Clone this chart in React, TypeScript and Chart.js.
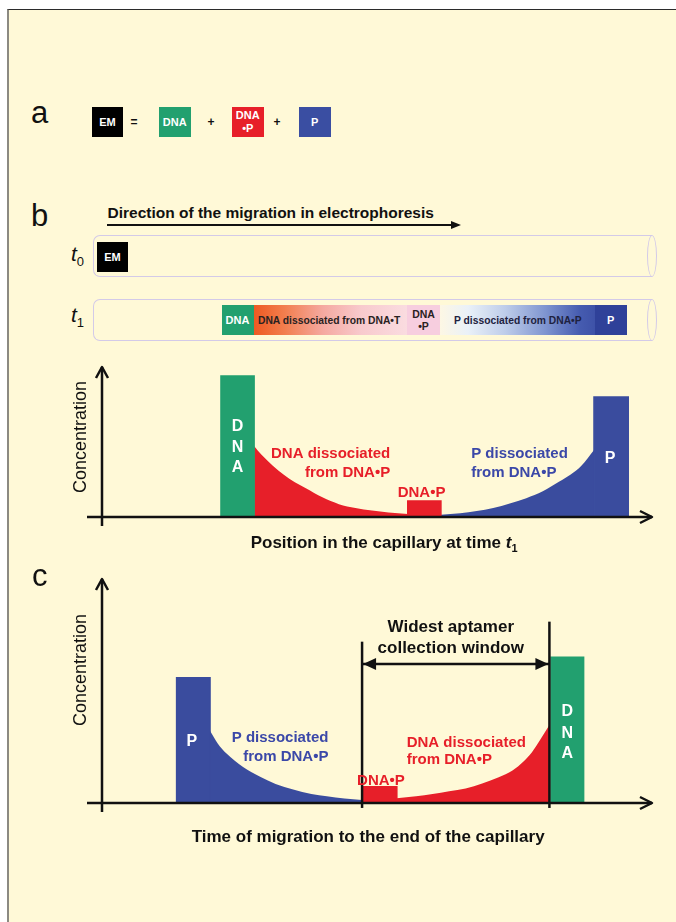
import React, { useEffect, useRef } from 'react';
import { Chart, registerables } from 'chart.js';

Chart.register(...registerables);

const FONT = '"Liberation Sans", Arial, Helvetica, sans-serif';
const BG = '#FFF9D7';
const GREEN = '#22A06F';
const RED = '#E71F29';
const BLUE = '#3A4C9E';
const LABEL_BLUE = '#3B48A8';
const INK = '#111111';

// ---------- Panel b: position in the capillary at time t1 (x 0-100, concentration 0-100)
const bDnaBand = [21.6, 27.6];
const bDnaHeight = 93.4;
const bRedX = [27.6, 29, 31, 33, 35, 37, 40, 43, 46, 49, 52, 55.5];
const bRedY = [47, 41, 34, 28, 23, 19, 13, 8.5, 6, 4.3, 3, 2];
const bComplexBand = [55.5, 61.5];
const bComplexHeight = 10.6;
const bBlueX = [61.5, 65, 68, 71, 74, 77, 80, 83, 85, 87, 89.3];
const bBlueY = [1.5, 2.5, 4, 6, 9, 12.5, 17, 23.5, 28, 34, 44.4];
const bPBand = [89.3, 95.5];
const bPHeight = 79.5;

// ---------- Panel c: time of migration to the end of the capillary
const cPBand = [13.55, 19.6];
const cPHeight = 55.7;
const cBlueX = [19.6, 21, 22.6, 25.6, 28.7, 31.5, 34.7, 38, 40.8, 44, 47.2];
const cBlueY = [32.1, 26.5, 22, 16, 11.7, 8.5, 6, 4, 3, 2, 1.3];
const cComplexBand = [47.2, 53.5];
const cComplexHeight = 7.2;
const cRedX = [53.5, 57, 60, 63, 66, 69, 72, 74.5, 76.5, 78, 79.5, 81.2];
const cRedY = [2.1, 3, 4, 5.2, 6.5, 8.7, 11.5, 14.5, 18.5, 22.5, 28, 34.7];
const cDnaBand = [81.5, 87.4];
const cDnaHeight = 64.8;
const cWindowX = [47.2, 81.2];
const cWindowTop = [71.7, 80.6];
const cWindowBottom = -2.2;
const cWindowArrowY = 61.8;

type Pt = { x: number; y: number };
const zip = (xs: number[], ys: number[]): Pt[] => xs.map((x, i) => ({ x, y: ys[i] }));
const rect = (band: number[], h: number): Pt[] => [
  { x: band[0], y: 0 },
  { x: band[0], y: h },
  { x: band[1], y: h },
  { x: band[1], y: 0 },
];

function area(data: Pt[], color: string, smooth: boolean) {
  return {
    data,
    borderWidth: smooth ? 1 : 1.6,
    borderColor: smooth ? 'rgba(0,0,0,0)' : color,
    backgroundColor: color,
    fill: 'origin',
    pointRadius: 0,
    tension: 0,
    cubicInterpolationMode: smooth ? 'monotone' : 'default',
    clip: false,
  };
}

function strokeLine(data: Pt[]) {
  return {
    data,
    borderWidth: 2.5,
    borderColor: INK,
    backgroundColor: INK,
    fill: false,
    pointRadius: 0,
    tension: 0,
    clip: false,
  };
}

function txt(ctx: CanvasRenderingContext2D, s: string, px: number, py: number, font: string, color: string, align: CanvasTextAlign = 'left', base: CanvasTextBaseline = 'alphabetic') {
  ctx.font = font;
  ctx.fillStyle = color;
  ctx.textAlign = align;
  ctx.textBaseline = base;
  ctx.fillText(s, px, py);
}

function drawAxes(ctx: CanvasRenderingContext2D, chart: any) {
  const a = chart.chartArea;
  const x0 = chart.scales.x.getPixelForValue(0);
  const y0 = chart.scales.y.getPixelForValue(0);
  ctx.strokeStyle = INK;
  ctx.lineWidth = 2.5;
  ctx.lineCap = 'butt';
  ctx.lineJoin = 'round';
  ctx.beginPath();
  ctx.moveTo(x0, y0 + 9);
  ctx.lineTo(x0, a.top + 1);
  ctx.moveTo(x0 - 15, y0);
  ctx.lineTo(a.right - 1, y0);
  ctx.stroke();
  ctx.beginPath();
  ctx.moveTo(x0 - 6, a.top + 12);
  ctx.lineTo(x0, a.top + 1);
  ctx.lineTo(x0 + 6, a.top + 12);
  ctx.moveTo(a.right - 13, y0 - 6);
  ctx.lineTo(a.right - 1, y0);
  ctx.lineTo(a.right - 13, y0 + 6);
  ctx.stroke();
}

function drawYTitle(ctx: CanvasRenderingContext2D, px: number, py: number) {
  ctx.save();
  ctx.translate(px, py);
  ctx.rotate(-Math.PI / 2);
  txt(ctx, 'Concentration', 0, 0, `18px ${FONT}`, INK, 'center', 'middle');
  ctx.restore();
}

const bDecor = {
  id: 'bDecor',
  afterDatasetsDraw(chart: any) {
    const ctx: CanvasRenderingContext2D = chart.ctx;
    const { x, y } = chart.scales;
    ctx.save();
    drawAxes(ctx, chart);
    const L = `bold 15px ${FONT}`;
    txt(ctx, 'DNA dissociated', x.getPixelForValue(52.3), y.getPixelForValue(39.1), L, RED, 'right');
    txt(ctx, 'from DNA\u2022P', x.getPixelForValue(52.3), y.getPixelForValue(26.5), L, RED, 'right');
    txt(ctx, 'DNA\u2022P', x.getPixelForValue(58.0), y.getPixelForValue(13.2), L, RED, 'center');
    txt(ctx, 'P dissociated', x.getPixelForValue(67.0), y.getPixelForValue(39.1), L, LABEL_BLUE, 'left');
    txt(ctx, 'from DNA\u2022P', x.getPixelForValue(67.0), y.getPixelForValue(26.5), L, LABEL_BLUE, 'left');
    const W = `bold 16px ${FONT}`;
    const cx = x.getPixelForValue((bDnaBand[0] + bDnaBand[1]) / 2);
    ['D', 'N', 'A'].forEach((ch, i) => txt(ctx, ch, cx, y.getPixelForValue([59.6, 45.7, 32.5][i]), W, '#ffffff', 'center', 'middle'));
    txt(ctx, 'P', x.getPixelForValue(92.2), y.getPixelForValue(38.6), W, '#ffffff', 'center', 'middle');
    drawYTitle(ctx, x.getPixelForValue(0) - 21, y.getPixelForValue(53));
    // x title with italic t and subscript 1
    const T = `bold 17px ${FONT}`;
    const main = 'Position in the capillary at time ';
    ctx.font = T;
    const w1 = ctx.measureText(main).width;
    ctx.font = `italic bold 17px ${FONT}`;
    const w2 = ctx.measureText('t').width;
    ctx.font = `bold 11px ${FONT}`;
    const w3 = ctx.measureText('1').width;
    const total = w1 + w2 + w3;
    const startX = x.getPixelForValue(51.2) - total / 2;
    const base = y.getPixelForValue(0) + 31;
    txt(ctx, main, startX, base, T, INK, 'left');
    txt(ctx, 't', startX + w1, base, `italic bold 17px ${FONT}`, INK, 'left');
    txt(ctx, '1', startX + w1 + w2, base + 4, `bold 11px ${FONT}`, INK, 'left');
    ctx.restore();
  },
};

const cDecor = {
  id: 'cDecor',
  afterDatasetsDraw(chart: any) {
    const ctx: CanvasRenderingContext2D = chart.ctx;
    const { x, y } = chart.scales;
    ctx.save();
    drawAxes(ctx, chart);
    // window arrowheads
    const ay = y.getPixelForValue(cWindowArrowY);
    const lx = x.getPixelForValue(cWindowX[0]) + 1;
    const rx = x.getPixelForValue(cWindowX[1]) - 1;
    ctx.fillStyle = INK;
    ctx.beginPath();
    ctx.moveTo(lx, ay);
    ctx.lineTo(lx + 13, ay - 6);
    ctx.lineTo(lx + 13, ay + 6);
    ctx.closePath();
    ctx.moveTo(rx, ay);
    ctx.lineTo(rx - 13, ay - 6);
    ctx.lineTo(rx - 13, ay + 6);
    ctx.closePath();
    ctx.fill();
    const L = `bold 15px ${FONT}`;
    txt(ctx, 'P dissociated', x.getPixelForValue(41.1), y.getPixelForValue(27.2), L, LABEL_BLUE, 'right');
    txt(ctx, 'from DNA\u2022P', x.getPixelForValue(41.1), y.getPixelForValue(18.8), L, LABEL_BLUE, 'right');
    txt(ctx, 'DNA dissociated', x.getPixelForValue(55.3), y.getPixelForValue(25.0), L, RED, 'left');
    txt(ctx, 'from DNA\u2022P', x.getPixelForValue(55.3), y.getPixelForValue(17.2), L, RED, 'left');
    txt(ctx, 'DNA\u2022P', x.getPixelForValue(46.3), y.getPixelForValue(8.0), L, RED, 'left');
    const W = `bold 16px ${FONT}`;
    txt(ctx, 'P', x.getPixelForValue(16.3), y.getPixelForValue(27.2), W, '#ffffff', 'center', 'middle');
    const cx = x.getPixelForValue((cDnaBand[0] + cDnaBand[1]) / 2);
    ['D', 'N', 'A'].forEach((ch, i) => txt(ctx, ch, cx, y.getPixelForValue([40.6, 31.0, 22.1][i]), W, '#ffffff', 'center', 'middle'));
    const T = `bold 17px ${FONT}`;
    txt(ctx, 'Widest aptamer', x.getPixelForValue(63.3), y.getPixelForValue(76.1), T, INK, 'center');
    txt(ctx, 'collection window', x.getPixelForValue(63.3), y.getPixelForValue(66.8), T, INK, 'center');
    drawYTitle(ctx, x.getPixelForValue(0) - 21, y.getPixelForValue(59.1));
    txt(ctx, 'Time of migration to the end of the capillary', x.getPixelForValue(48.3), y.getPixelForValue(0) + 39, T, INK, 'center');
    ctx.restore();
  },
};

function baseOptions(padding: any) {
  return {
    animation: false,
    responsive: false,
    maintainAspectRatio: false,
    events: [],
    layout: { padding },
    scales: {
      x: { type: 'linear', min: 0, max: 100, display: false },
      y: { type: 'linear', min: 0, max: 100, display: false },
    },
    plugins: { legend: { display: false }, tooltip: { enabled: false } },
  };
}

const Abs = ({ l, t, w, h, style, children }: any) => (
  <div style={{ position: 'absolute', left: l, top: t, width: w, height: h, boxSizing: 'border-box', ...style }}>{children}</div>
);

const Box = ({ l, t, w, h, bg, children, color = '#fff', size = 11 }: any) => (
  <Abs
    l={l}
    t={t}
    w={w}
    h={h}
    style={{
      background: bg,
      color,
      display: 'flex',
      flexDirection: 'column',
      alignItems: 'center',
      justifyContent: 'center',
      font: `bold ${size}px ${FONT}`,
      lineHeight: `${size + 2}px`,
      textAlign: 'center',
    }}
  >
    {children}
  </Abs>
);

const BText = ({ x, base, size, weight = 'normal', style, children, align = 'left', w = 0 }: any) => (
  <div
    style={{
      position: 'absolute',
      left: align === 'center' ? x - w / 2 : x,
      width: align === 'center' ? w : undefined,
      textAlign: align,
      top: base - 0.8465 * size,
      fontFamily: FONT,
      fontSize: size,
      fontWeight: weight,
      lineHeight: `${size}px`,
      whiteSpace: 'nowrap',
      color: INK,
      ...style,
    }}
  >
    {children}
  </div>
);

const TUBE = '#D3CAE8';
const Tube = ({ t }: any) => (
  <>
    <Abs l={93} t={t} w={559} h={42} style={{ border: `1.5px solid ${TUBE}`, borderRight: 'none', borderRadius: '7px 0 0 7px' }} />
    <Abs l={647} t={t} w={10} h={42} style={{ border: `1.5px solid ${TUBE}`, borderRadius: '50%' }} />
  </>
);

const TLabel = ({ base, sub }: any) => (
  <BText x={71} base={base} size={21} style={{ fontStyle: 'italic' }}>
    t<span style={{ fontSize: 13, fontStyle: 'normal', position: 'relative', top: 5 }}>{sub}</span>
  </BText>
);

export default function App() {
  const bRef = useRef<HTMLCanvasElement>(null);
  const cRef = useRef<HTMLCanvasElement>(null);

  useEffect(() => {
    const chartB = new Chart(bRef.current as HTMLCanvasElement, {
      type: 'line',
      data: {
        datasets: [
          area(rect(bDnaBand, bDnaHeight), GREEN, false),
          area(rect(bComplexBand, bComplexHeight), RED, false),
          area(rect(bPBand, bPHeight), BLUE, false),
          area(zip(bRedX, bRedY), RED, true),
          area(zip(bBlueX, bBlueY), BLUE, true),
        ] as any,
      },
      options: baseOptions({ left: 102, right: 23, top: 16, bottom: 43 }) as any,
      plugins: [bDecor],
    });
    const chartC = new Chart(cRef.current as HTMLCanvasElement, {
      type: 'line',
      data: {
        datasets: [
          strokeLine([{ x: cWindowX[0], y: cWindowBottom }, { x: cWindowX[0], y: cWindowTop[0] }]),
          strokeLine([{ x: cWindowX[1], y: cWindowBottom }, { x: cWindowX[1], y: cWindowTop[1] }]),
          strokeLine([{ x: cWindowX[0], y: cWindowArrowY }, { x: cWindowX[1], y: cWindowArrowY }]),
          area(rect(cPBand, cPHeight), BLUE, false),
          area(rect(cComplexBand, cComplexHeight), RED, false),
          area(rect(cDnaBand, cDnaHeight), GREEN, false),
          area(zip(cBlueX, cBlueY), BLUE, true),
          area(zip(cRedX, cRedY), RED, true),
        ] as any,
      },
      options: baseOptions({ left: 102, right: 23, top: 13, bottom: 52 }) as any,
      plugins: [cDecor],
    });
    return () => {
      chartB.destroy();
      chartC.destroy();
    };
  }, []);

  return (
    <div style={{ position: 'absolute', left: 0, top: 0, width: 676, height: 922, overflow: 'hidden', background: '#ffffff' }}>
      <Abs l={7} t={9} w={669} h={913} style={{ background: BG, borderLeft: '2px solid #8C8A82', borderTop: '1px solid #2B2B2B' }} />

      {/* Panel a */}
      <BText x={31} base={123.5} size={31}>a</BText>
      <Box l={92} t={107} w={31} h={30} bg="#000">EM</Box>
      <Box l={126} t={107} w={16} h={30} bg="transparent" color={INK} size={12}>=</Box>
      <Box l={159} t={107} w={31.5} h={30} bg={GREEN}>DNA</Box>
      <Box l={203} t={107} w={16} h={30} bg="transparent" color={INK} size={12}>+</Box>
      <Box l={232} t={107} w={31.5} h={30} bg={RED}>
        <span>DNA</span>
        <span>{'\u2022'}P</span>
      </Box>
      <Box l={269} t={107} w={16} h={30} bg="transparent" color={INK} size={12}>+</Box>
      <Box l={299} t={107} w={31.5} h={30} bg="#3A4EA2">P</Box>

      {/* Panel b header */}
      <BText x={31} base={226} size={31}>b</BText>
      <BText x={107.5} base={218.3} size={15.5} weight="bold">Direction of the migration in electrophoresis</BText>
      <Abs l={107} t={223.8} w={345} h={2.4} style={{ background: INK }} />
      <div
        style={{
          position: 'absolute',
          left: 451,
          top: 220.5,
          width: 0,
          height: 0,
          borderTop: '4.5px solid transparent',
          borderBottom: '4.5px solid transparent',
          borderLeft: `10px solid ${INK}`,
        }}
      />

      {/* capillaries */}
      <Tube t={235} />
      <TLabel base={261} sub="0" />
      <Box l={97} t={242} w={31} h={30} bg="#000">EM</Box>

      <Tube t={299} />
      <TLabel base={322} sub="1" />
      <Box l={221.5} t={305} w={32} h={30} bg={GREEN}>DNA</Box>
      <Abs
        l={253.5}
        t={305}
        w={153.5}
        h={30}
        style={{
          background: 'linear-gradient(to right, #EE5A22 0%, #F27E4E 20%, #F5A9A0 45%, #F8CACD 70%, #FADCE0 100%)',
          display: 'flex',
          alignItems: 'center',
          paddingLeft: 4.5,
          font: `bold 10.3px ${FONT}`,
          color: '#2A2222',
          whiteSpace: 'nowrap',
        }}
      >
        DNA dissociated from DNA{'\u2022'}T
      </Abs>
      <Box l={407} t={305} w={33} h={30} bg="#F7CEDF" color="#2A2222" size={10.5}>
        <span>DNA</span>
        <span>{'\u2022'}P</span>
      </Box>
      <Abs
        l={440}
        t={305}
        w={154.5}
        h={30}
        style={{
          background: 'linear-gradient(to right, #FDF7E4 0%, #EAF1F8 18%, #BECDEA 42%, #7F95D0 68%, #465CB0 90%, #3E52A8 100%)',
          display: 'flex',
          alignItems: 'center',
          paddingLeft: 14,
          font: `bold 10.3px ${FONT}`,
          color: '#1E2240',
          whiteSpace: 'nowrap',
        }}
      >
        P dissociated from DNA{'\u2022'}P
      </Abs>
      <Box l={594.5} t={305} w={32.5} h={30} bg="#2F4199">P</Box>

      <canvas ref={bRef} width={676} height={210} style={{ position: 'absolute', left: 0, top: 350, width: 676, height: 210 }} />

      {/* Panel c */}
      <BText x={32} base={586} size={31}>c</BText>
      <canvas ref={cRef} width={676} height={290} style={{ position: 'absolute', left: 0, top: 565, width: 676, height: 290 }} />
    </div>
  );
}
